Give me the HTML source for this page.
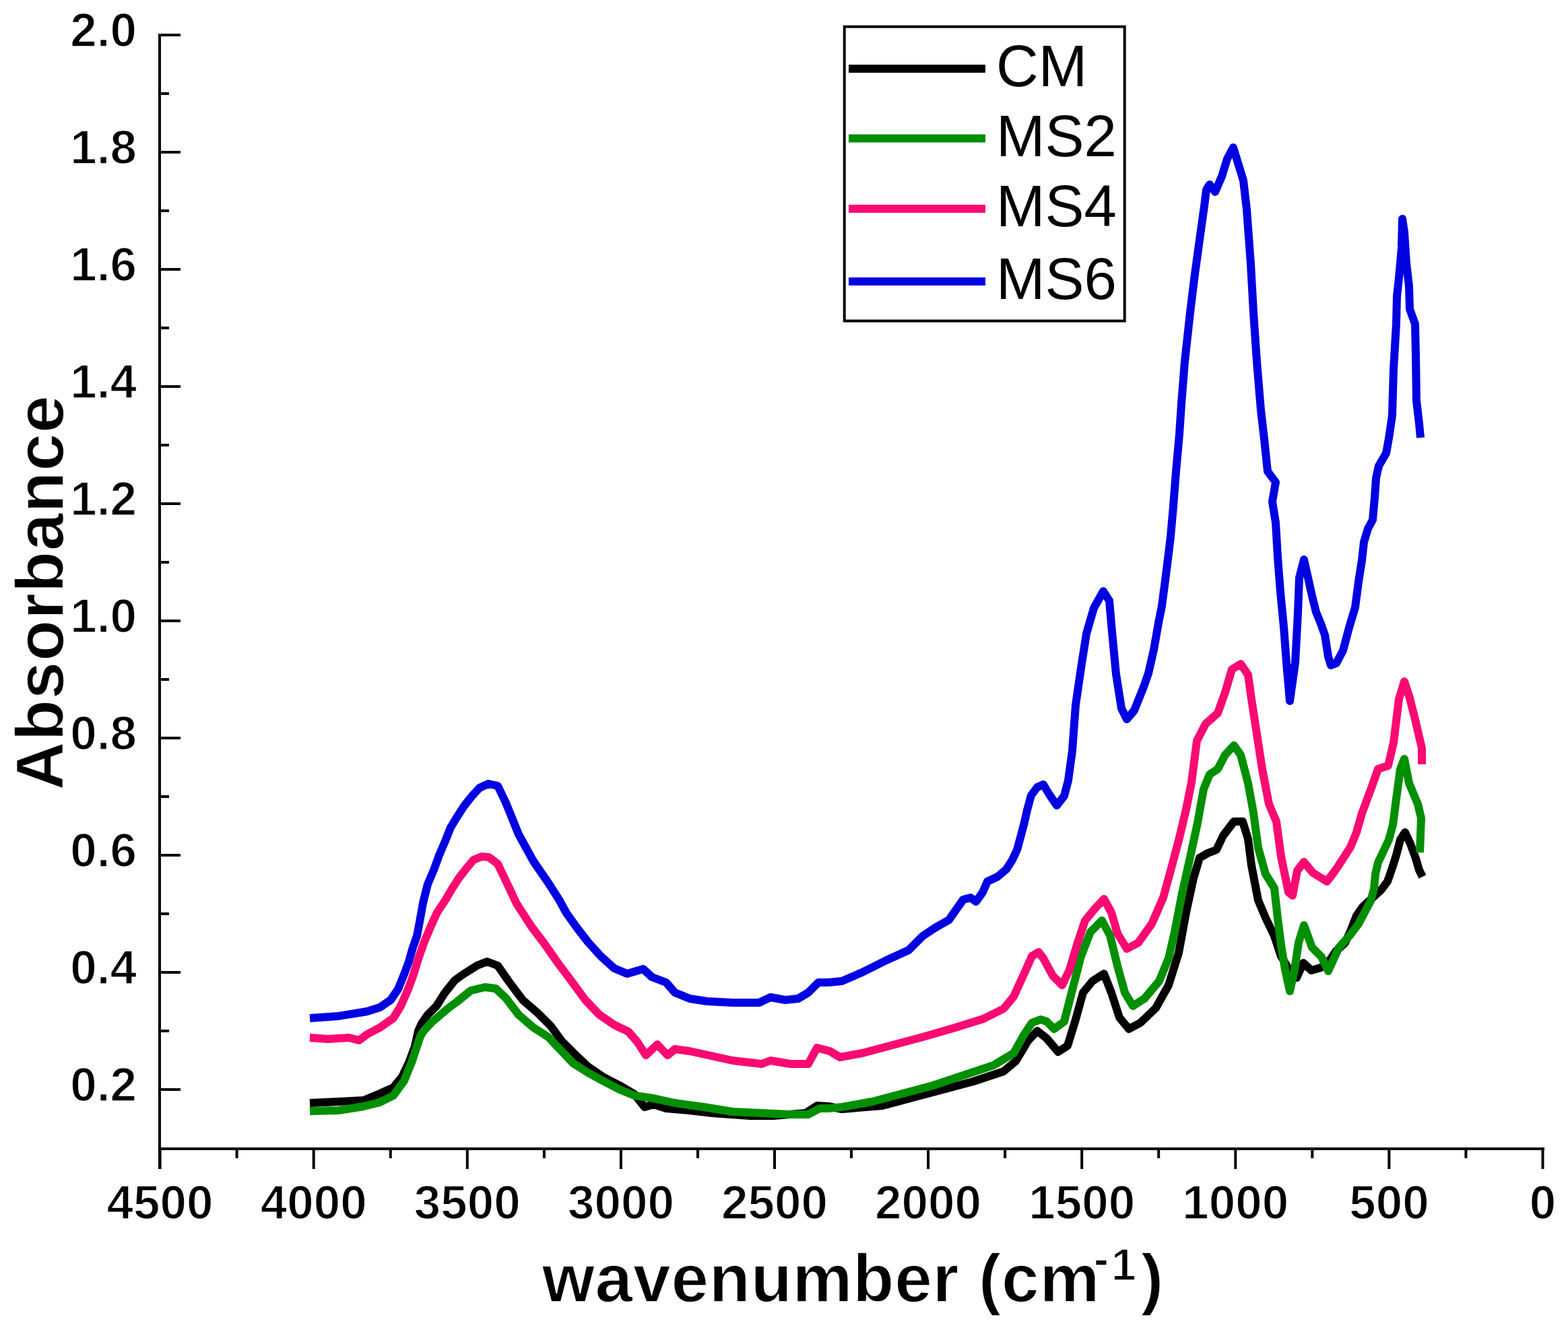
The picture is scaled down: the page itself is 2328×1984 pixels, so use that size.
<!DOCTYPE html>
<html><head><meta charset="utf-8"><title>Absorbance spectra</title>
<style>
html,body{margin:0;padding:0;background:#fff;}
body{width:2328px;height:1984px;overflow:hidden;}
svg{display:block;}
.tk{font-family:"Liberation Sans",Arial,sans-serif;font-weight:bold;font-size:71px;fill:#000;stroke:#fff;stroke-width:1.6px;}
.lg{font-family:"Liberation Sans",Arial,sans-serif;font-size:87px;fill:#000;}
.ttl{font-family:"Liberation Sans",Arial,sans-serif;font-weight:bold;font-size:100px;fill:#000;stroke:#fff;stroke-width:1.6px;}
</style></head>
<body>
<svg width="2328" height="1984" viewBox="0 0 2328 1984">
<rect x="0" y="0" width="2328" height="1984" fill="#fff"/>
<line x1="237" y1="50" x2="237" y2="1736" stroke="#000" stroke-width="4"/>
<line x1="235" y1="1706" x2="2293" y2="1706" stroke="#000" stroke-width="4"/>
<line x1="237" y1="52.0" x2="268" y2="52.0" stroke="#000" stroke-width="4"/>
<text x="203" y="68.5" class="tk" text-anchor="end">2.0</text>
<line x1="237" y1="139.0" x2="251" y2="139.0" stroke="#000" stroke-width="4"/>
<line x1="237" y1="226.0" x2="268" y2="226.0" stroke="#000" stroke-width="4"/>
<text x="203" y="242.5" class="tk" text-anchor="end">1.8</text>
<line x1="237" y1="313.0" x2="251" y2="313.0" stroke="#000" stroke-width="4"/>
<line x1="237" y1="400.0" x2="268" y2="400.0" stroke="#000" stroke-width="4"/>
<text x="203" y="416.5" class="tk" text-anchor="end">1.6</text>
<line x1="237" y1="487.0" x2="251" y2="487.0" stroke="#000" stroke-width="4"/>
<line x1="237" y1="574.0" x2="268" y2="574.0" stroke="#000" stroke-width="4"/>
<text x="203" y="590.5" class="tk" text-anchor="end">1.4</text>
<line x1="237" y1="661.0" x2="251" y2="661.0" stroke="#000" stroke-width="4"/>
<line x1="237" y1="748.0" x2="268" y2="748.0" stroke="#000" stroke-width="4"/>
<text x="203" y="764.5" class="tk" text-anchor="end">1.2</text>
<line x1="237" y1="835.0" x2="251" y2="835.0" stroke="#000" stroke-width="4"/>
<line x1="237" y1="922.0" x2="268" y2="922.0" stroke="#000" stroke-width="4"/>
<text x="203" y="938.5" class="tk" text-anchor="end">1.0</text>
<line x1="237" y1="1009.0" x2="251" y2="1009.0" stroke="#000" stroke-width="4"/>
<line x1="237" y1="1096.0" x2="268" y2="1096.0" stroke="#000" stroke-width="4"/>
<text x="203" y="1112.5" class="tk" text-anchor="end">0.8</text>
<line x1="237" y1="1183.0" x2="251" y2="1183.0" stroke="#000" stroke-width="4"/>
<line x1="237" y1="1270.0" x2="268" y2="1270.0" stroke="#000" stroke-width="4"/>
<text x="203" y="1286.5" class="tk" text-anchor="end">0.6</text>
<line x1="237" y1="1357.0" x2="251" y2="1357.0" stroke="#000" stroke-width="4"/>
<line x1="237" y1="1444.0" x2="268" y2="1444.0" stroke="#000" stroke-width="4"/>
<text x="203" y="1460.5" class="tk" text-anchor="end">0.4</text>
<line x1="237" y1="1531.0" x2="251" y2="1531.0" stroke="#000" stroke-width="4"/>
<line x1="237" y1="1618.0" x2="268" y2="1618.0" stroke="#000" stroke-width="4"/>
<text x="203" y="1634.5" class="tk" text-anchor="end">0.2</text>
<line x1="237.6" y1="1706" x2="237.6" y2="1736" stroke="#000" stroke-width="4"/>
<text x="237.6" y="1810" class="tk" text-anchor="middle">4500</text>
<line x1="351.6" y1="1706" x2="351.6" y2="1720" stroke="#000" stroke-width="4"/>
<line x1="465.7" y1="1706" x2="465.7" y2="1736" stroke="#000" stroke-width="4"/>
<text x="465.7" y="1810" class="tk" text-anchor="middle">4000</text>
<line x1="579.8" y1="1706" x2="579.8" y2="1720" stroke="#000" stroke-width="4"/>
<line x1="693.8" y1="1706" x2="693.8" y2="1736" stroke="#000" stroke-width="4"/>
<text x="693.8" y="1810" class="tk" text-anchor="middle">3500</text>
<line x1="807.9" y1="1706" x2="807.9" y2="1720" stroke="#000" stroke-width="4"/>
<line x1="921.9" y1="1706" x2="921.9" y2="1736" stroke="#000" stroke-width="4"/>
<text x="921.9" y="1810" class="tk" text-anchor="middle">3000</text>
<line x1="1036.0" y1="1706" x2="1036.0" y2="1720" stroke="#000" stroke-width="4"/>
<line x1="1150.0" y1="1706" x2="1150.0" y2="1736" stroke="#000" stroke-width="4"/>
<text x="1150.0" y="1810" class="tk" text-anchor="middle">2500</text>
<line x1="1264.0" y1="1706" x2="1264.0" y2="1720" stroke="#000" stroke-width="4"/>
<line x1="1378.1" y1="1706" x2="1378.1" y2="1736" stroke="#000" stroke-width="4"/>
<text x="1378.1" y="1810" class="tk" text-anchor="middle">2000</text>
<line x1="1492.1" y1="1706" x2="1492.1" y2="1720" stroke="#000" stroke-width="4"/>
<line x1="1606.2" y1="1706" x2="1606.2" y2="1736" stroke="#000" stroke-width="4"/>
<text x="1606.2" y="1810" class="tk" text-anchor="middle">1500</text>
<line x1="1720.2" y1="1706" x2="1720.2" y2="1720" stroke="#000" stroke-width="4"/>
<line x1="1834.3" y1="1706" x2="1834.3" y2="1736" stroke="#000" stroke-width="4"/>
<text x="1834.3" y="1810" class="tk" text-anchor="middle">1000</text>
<line x1="1948.3" y1="1706" x2="1948.3" y2="1720" stroke="#000" stroke-width="4"/>
<line x1="2062.4" y1="1706" x2="2062.4" y2="1736" stroke="#000" stroke-width="4"/>
<text x="2062.4" y="1810" class="tk" text-anchor="middle">500</text>
<line x1="2176.4" y1="1706" x2="2176.4" y2="1720" stroke="#000" stroke-width="4"/>
<line x1="2290.5" y1="1706" x2="2290.5" y2="1736" stroke="#000" stroke-width="4"/>
<text x="2290.5" y="1810" class="tk" text-anchor="middle">0</text>
<polyline points="460,1638 502,1636 540,1634 564,1624 584,1615 597,1599 607,1578 616,1554 621,1531 626,1520 635,1507 648,1494 660,1475 675,1456 686,1448 708,1434 723,1428 739,1434 755,1457 776,1485 798,1504 818,1524 834,1546 851,1563 873,1584 895,1599 920,1612 942,1625 957,1644 970,1640 989,1646 1024,1649 1058,1653 1114,1657 1148,1657 1196,1653 1213,1642 1230,1643 1250,1647 1310,1642 1355,1630 1400,1618 1445,1606 1490,1591 1508,1576 1526,1546 1540,1531 1554,1542 1571,1562 1585,1553 1597,1514 1608,1474 1622,1457 1639,1446 1650,1474 1662,1511 1676,1528 1693,1519 1716,1497 1735,1463 1750,1415 1761,1355 1772,1304 1781,1274 1793,1267 1806,1262 1816,1241 1832,1220 1845,1220 1853,1246 1858,1285 1868,1337 1879,1363 1892,1390 1902,1420 1914,1440 1925,1452 1935,1430 1947,1441 1961,1437 1975,1425 1983,1413 1997,1400 2005,1383 2014,1360 2023,1347 2039,1332 2051,1321 2060,1309 2066,1292 2073,1270 2079,1247 2086,1236 2094,1253 2102,1275 2107,1292 2112,1302" fill="none" stroke="#000000" stroke-width="12" stroke-linejoin="round" stroke-linecap="butt"/>
<polyline points="460,1650 502,1649 540,1643 564,1637 584,1627 600,1605 611,1578 619,1554 624,1539 629,1531 641,1518 654,1507 667,1496 678,1488 699,1471 720,1466 736,1468 751,1482 770,1507 792,1526 814,1540 830,1557 851,1579 873,1593 895,1605 920,1618 942,1627 970,1631 1002,1638 1045,1644 1088,1651 1131,1653 1174,1655 1200,1655 1217,1646 1230,1646 1250,1644 1295,1636 1340,1624 1385,1612 1430,1597 1475,1582 1505,1564 1520,1537 1532,1519 1545,1514 1554,1517 1565,1528 1580,1517 1591,1474 1605,1420 1619,1384 1636,1367 1648,1389 1659,1434 1670,1474 1682,1494 1699,1483 1721,1457 1735,1423 1744,1384 1755,1327 1767,1273 1778,1222 1787,1172 1796,1150 1808,1142 1819,1121 1832,1107 1842,1121 1853,1163 1861,1207 1868,1259 1879,1298 1892,1319 1897,1364 1902,1403 1908,1440 1915,1472 1922,1440 1928,1400 1936,1374 1948,1407 1962,1421 1972,1442 1988,1407 2005,1388 2017,1372 2026,1355 2035,1338 2040,1320 2042,1298 2046,1281 2054,1264 2062,1247 2068,1225 2072,1194 2079,1142 2085,1127 2092,1163 2105,1194 2110,1215 2108,1266" fill="none" stroke="#008f00" stroke-width="12" stroke-linejoin="round" stroke-linecap="butt"/>
<polyline points="460,1541 487,1543 518,1541 533,1545 545,1536 564,1526 584,1512 595,1494 606,1469 614,1447 621,1424 629,1401 639,1377 649,1355 661,1337 671,1320 682,1303 693,1289 703,1277 715,1272 726,1273 739,1283 751,1308 767,1342 789,1376 808,1401 829,1431 847,1455 869,1485 890,1507 912,1522 933,1532 946,1547 959,1567 976,1551 991,1567 1002,1558 1024,1561 1056,1568 1088,1575 1131,1580 1144,1575 1174,1580 1200,1580 1213,1556 1232,1561 1247,1570 1280,1564 1325,1552 1370,1540 1415,1527 1460,1513 1490,1498 1505,1480 1520,1447 1532,1420 1542,1414 1549,1423 1563,1449 1577,1463 1588,1440 1599,1403 1611,1367 1625,1350 1639,1335 1650,1355 1659,1386 1673,1409 1690,1400 1710,1372 1727,1333 1738,1293 1750,1248 1761,1202 1769,1162 1777,1100 1790,1075 1808,1059 1819,1028 1829,994 1842,986 1853,1002 1858,1038 1866,1090 1874,1142 1884,1194 1895,1220 1902,1272 1913,1325 1919,1330 1926,1293 1936,1280 1949,1296 1970,1309 1983,1292 1994,1275 2005,1258 2014,1236 2022,1208 2035,1173 2046,1142 2061,1137 2069,1103 2077,1038 2085,1012 2092,1033 2100,1064 2111,1111 2111,1135" fill="none" stroke="#fa0a72" stroke-width="12" stroke-linejoin="round" stroke-linecap="butt"/>
<polyline points="460,1512 502,1509 533,1504 545,1502 564,1496 580,1485 591,1469 600,1447 607,1428 613,1407 619,1390 623,1369 628,1341 635,1313 644,1292 652,1270 661,1249 669,1229 678,1214 689,1197 700,1183 712,1170 725,1164 739,1167 751,1192 770,1239 792,1279 814,1311 830,1336 841,1356 856,1377 873,1399 892,1420 912,1438 931,1446 955,1439 968,1451 989,1459 1002,1474 1024,1483 1050,1487 1088,1489 1127,1489 1144,1481 1166,1485 1185,1483 1200,1474 1215,1459 1230,1459 1250,1457 1280,1444 1316,1426 1349,1411 1370,1390 1388,1378 1409,1366 1418,1353 1430,1336 1441,1333 1449,1339 1459,1325 1466,1309 1481,1302 1494,1291 1503,1277 1510,1262 1516,1240 1521,1221 1525,1203 1531,1181 1540,1169 1549,1165 1558,1180 1569,1196 1580,1182 1586,1159 1589,1137 1592,1115 1597,1047 1605,992 1613,941 1624,903 1638,878 1647,892 1651,938 1657,1001 1665,1052 1673,1068 1684,1055 1698,1020 1705,1000 1713,965 1720,925 1725,900 1730,862 1734,830 1738,797 1742,752 1746,700 1751,645 1754,600 1759,537 1767,464 1774,407 1782,349 1788,306 1791,282 1796,274 1804,285 1814,262 1822,236 1831,219 1838,242 1846,268 1851,311 1857,392 1861,464 1866,537 1872,609 1877,652 1882,700 1894,716 1889,745 1894,776 1897,827 1901,879 1906,931 1910,984 1915,1041 1923,984 1927,910 1929,858 1936,831 1942,858 1948,885 1954,909 1961,926 1967,943 1972,975 1976,988 1984,985 1994,966 2003,932 2012,902 2017,864 2022,832 2025,805 2031,785 2038,772 2041,739 2043,710 2047,692 2058,673 2062,651 2067,617 2069,549 2073,481 2074,440 2077,413 2081,368 2082,325 2085,345 2088,391 2092,425 2093,459 2101,481 2102,527 2103,595 2107,629 2109,650" fill="none" stroke="#0000e0" stroke-width="12" stroke-linejoin="round" stroke-linecap="butt"/>
<rect x="1253.7" y="39.6" width="416" height="437" fill="none" stroke="#000" stroke-width="4"/>
<line x1="1260" y1="102" x2="1463" y2="102" stroke="#000000" stroke-width="12"/>
<text x="1479" y="128" class="lg">CM</text>
<line x1="1260" y1="205.5" x2="1463" y2="205.5" stroke="#008f00" stroke-width="12"/>
<text x="1479" y="231.5" class="lg">MS2</text>
<line x1="1260" y1="310" x2="1463" y2="310" stroke="#fa0a72" stroke-width="12"/>
<text x="1479" y="336" class="lg">MS4</text>
<line x1="1260" y1="418" x2="1463" y2="418" stroke="#0000e0" stroke-width="12"/>
<text x="1479" y="444" class="lg">MS6</text>
<text class="ttl" transform="translate(93.6,880) rotate(-90)" text-anchor="middle" style="letter-spacing:0.9px">Absorbance</text>
<text class="ttl" x="805" y="1932.6" style="letter-spacing:0.8px">wavenumber (cm<tspan font-size="66" x="1624" y="1892">-</tspan><tspan font-size="66" x="1650" y="1901.4">1</tspan><tspan x="1694" y="1932.6">)</tspan></text>
</svg>
</body></html>
